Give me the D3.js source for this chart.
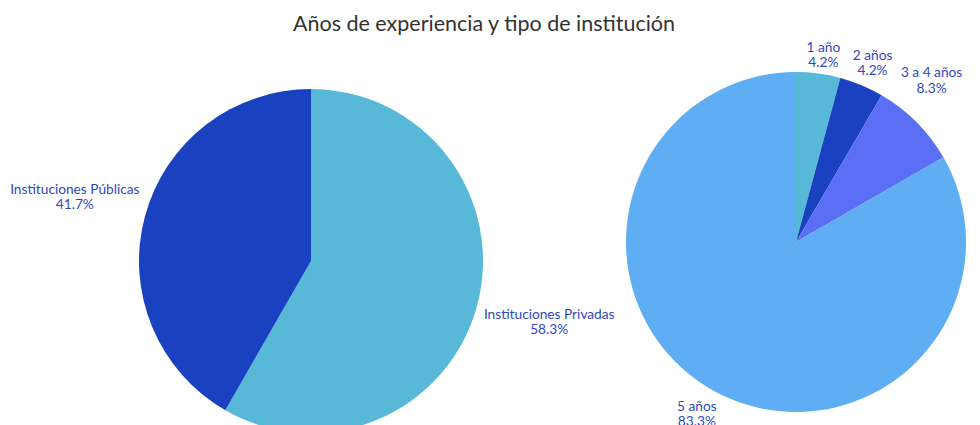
<!DOCTYPE html>
<html>
<head>
<meta charset="utf-8">
<script src="https://cdn.jsdelivr.net/npm/d3@7"></script>
<style>
  body { margin: 0; background: #fff; }
  text { font-family: "Lato", "Open Sans", sans-serif; }
</style>
</head>
<body>
<div id="chart"></div>
<script>
// data
const title = "Años de experiencia y tipo de institución";

const instLabels = ["Instituciones Privadas", "Instituciones Públicas"];
const instValues = [58.3, 41.7];

const yearLabels = ["1 año", "2 años", "3 a 4 años", "5 años"];
const yearValues = [4.2, 4.2, 8.3, 83.3];

// constants
const width = 980;
const height = 425;

const colors = {
  "Instituciones Privadas": "#57b8d8",
  "Instituciones Públicas": "#1a41bf",
  "1 año": "#57b8d8",
  "2 años": "#1a41bf",
  "3 a 4 años": "#5a6ff5",
  "5 años": "#5faef3"
};

// label offset from the arc edge point (layout only)
const labelShift = {
  "Instituciones Privadas": [72, 16],
  "Instituciones Públicas": [-70, -20],
  "1 año": [5, -19],
  "2 años": [11, -22],
  "3 a 4 años": [15, -42],
  "5 años": [-14, 25]
};

const svg = d3.select("#chart")
  .append("svg")
  .attr("width", width)
  .attr("height", height);

svg.append("text")
  .attr("x", 484)
  .attr("y", 31)
  .attr("text-anchor", "middle")
  .attr("fill", "#333")
  .attr("font-size", 21.5)
  .text(title);

function drawPie(labels, values, cx, cy, r) {
  const data = labels.map((l, i) => ({label: l, value: values[i]}));
  const pie = d3.pie().sort(null).value(d => d.value);
  const arc = d3.arc().innerRadius(0).outerRadius(r);
  const edge = d3.arc().innerRadius(r).outerRadius(r);

  const g = svg.append("g").attr("transform", `translate(${cx},${cy})`);

  g.selectAll("path").data(pie(data))
    .enter().append("path")
    .attr("d", arc)
    .attr("fill", d => colors[d.data.label]);

  const lab = g.selectAll("text.lab").data(pie(data))
    .enter().append("text")
    .attr("class", "lab")
    .attr("text-anchor", "middle")
    .attr("fill", "#2f48c2")
    .attr("font-size", 13.7)
    .attr("transform", d => {
      const [x, y] = edge.centroid(d);
      const s = labelShift[d.data.label];
      return `translate(${x + s[0]},${y + s[1]})`;
    });

  lab.append("tspan").attr("x", 0).attr("dy", "-0.2em").text(d => d.data.label);
  lab.append("tspan").attr("x", 0).attr("dy", "1.1em")
    .text(d => d.data.value.toFixed(1) + "%");
}

drawPie(instLabels, instValues, 311, 261, 172);
drawPie(yearLabels, yearValues, 796, 242, 170);
</script>
</body>
</html>
